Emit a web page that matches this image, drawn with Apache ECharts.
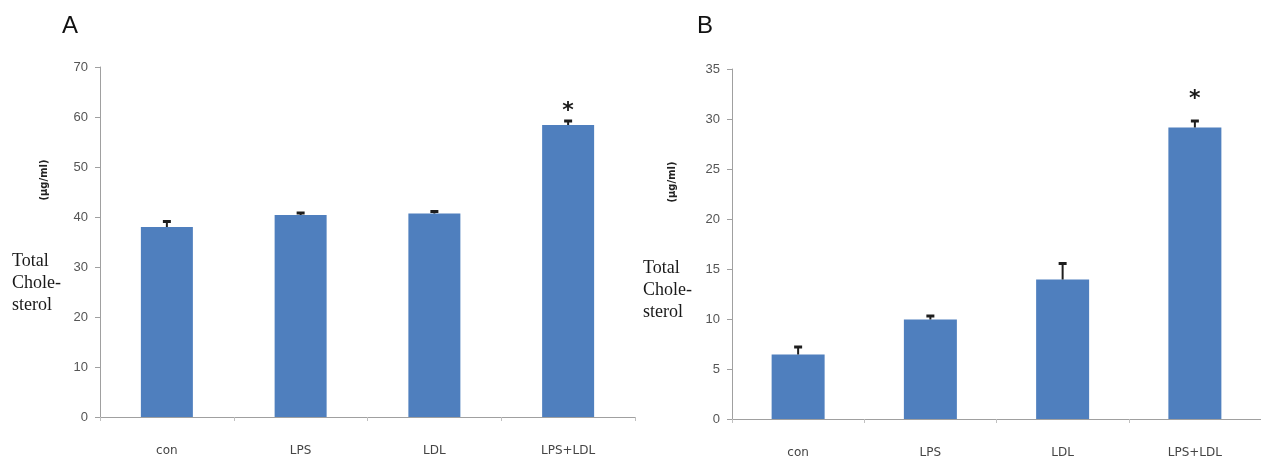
<!DOCTYPE html>
<html>
<head>
<meta charset="utf-8">
<script src="https://cdn.jsdelivr.net/npm/echarts@6/dist/echarts.min.js"></script>
<style>
html,body{margin:0;padding:0;background:#fff;}
#chart{width:1261px;height:460px;}
</style>
</head>
<body>
<div id="chart"></div>
<script>
const categories = ['con', 'LPS', 'LDL', 'LPS+LDL'];
const meanA = [38.0, 40.4, 40.7, 58.4];
const errA = [1.3, 0.6, 0.6, 1.0];
const sigA = [0, 0, 0, 1];
const meanB = [6.45, 9.95, 13.95, 29.15];
const errB = [0.85, 0.45, 1.7, 0.75];
const sigB = [0, 0, 0, 1];
const ticksA = { min: 0, max: 70, interval: 10 };
const ticksB = { min: 0, max: 35, interval: 5 };

const BAR = '#4f7fbe';

function errData(mean, err, sig) {
  return mean.map((m, i) => [i, m, err[i], sig[i]]);
}
function makeErrRender(starOffset) {
  return function (params, api) {
    const i = api.value(0);
    const m = api.value(1);
    const e = api.value(2);
    const s = api.value(3);
    const b = api.coord([i, m]);
    const t = api.coord([i, m + e]);
    const children = [
      { type: 'line', shape: { x1: b[0], y1: b[1], x2: t[0], y2: t[1] + 1 }, style: { stroke: '#1e1e1e', lineWidth: 2 } },
      { type: 'line', shape: { x1: t[0] - 4, y1: t[1] + 1, x2: t[0] + 4, y2: t[1] + 1 }, style: { stroke: '#1e1e1e', lineWidth: 3 } }
    ];
    if (s) {
      children.push({ type: 'text', style: { text: '*', x: t[0], y: t[1] - starOffset, fontSize: 22, fontWeight: 'bold', fill: '#1a1a1a', align: 'center', verticalAlign: 'middle', fontFamily: 'DejaVu Sans' } });
    }
    return { type: 'group', children };
  };
}

const xAxisBase = {
  type: 'category',
  data: categories,
  axisLine: { lineStyle: { color: '#a0a0a0', width: 1 } },
  axisTick: { show: true, length: 4, lineStyle: { color: '#c0c0c0' } },
  axisLabel: { color: '#454545', fontSize: 12, margin: 28, fontFamily: 'DejaVu Sans' }
};
const yAxisBase = {
  type: 'value',
  axisLine: { show: true, lineStyle: { color: '#a0a0a0' } },
  axisTick: { show: true, length: 5, lineStyle: { color: '#a0a0a0' } },
  splitLine: { show: false },
  axisLabel: { color: '#555', fontSize: 13, margin: 12, fontFamily: 'Liberation Sans' }
};

const chart = echarts.init(document.getElementById('chart'));
const serif = 'Liberation Serif';
function unitLabels(x, y, tx, ty) {
  return [
    { type: 'text', left: x, top: y, style: { text: 'Total\nChole-\nsterol', font: '18px "' + serif + '"', lineHeight: 22, fill: '#1a1a1a' } },
    { type: 'text', x: tx, y: ty, rotation: Math.PI / 2, style: { text: '(μg/ml)', font: 'bold 10px "DejaVu Sans"', fill: '#222', align: 'center', verticalAlign: 'middle' } }
  ];
}
chart.setOption({
  animation: false,
  backgroundColor: '#ffffff',
  grid: [
    { left: 100, top: 67, width: 535, height: 350 },
    { left: 732, top: 69, width: 536, height: 350 }
  ],
  xAxis: [
    Object.assign({ gridIndex: 0 }, xAxisBase),
    Object.assign({ gridIndex: 1 }, xAxisBase)
  ],
  yAxis: [
    Object.assign({ gridIndex: 0 }, yAxisBase, ticksA),
    Object.assign({ gridIndex: 1 }, yAxisBase, ticksB)
  ],
  series: [
    { type: 'bar', xAxisIndex: 0, yAxisIndex: 0, data: meanA, barWidth: 52, itemStyle: { color: BAR } },
    { type: 'custom', xAxisIndex: 0, yAxisIndex: 0, data: errData(meanA, errA, sigA), renderItem: makeErrRender(9), z: 5 },
    { type: 'bar', xAxisIndex: 1, yAxisIndex: 1, data: meanB, barWidth: 53, itemStyle: { color: BAR } },
    { type: 'custom', xAxisIndex: 1, yAxisIndex: 1, data: errData(meanB, errB, sigB), renderItem: makeErrRender(21), z: 5 }
  ],
  graphic: [
    { type: 'text', left: 62, top: 14, style: { text: 'A', font: '24px "Liberation Sans"', fill: '#111' } },
    { type: 'text', left: 697, top: 14, style: { text: 'B', font: '24px "Liberation Sans"', fill: '#111' } }
  ].concat(unitLabels(12, 250, 44, 180)).concat(unitLabels(643, 257, 672, 182))
});
</script>
</body>
</html>
